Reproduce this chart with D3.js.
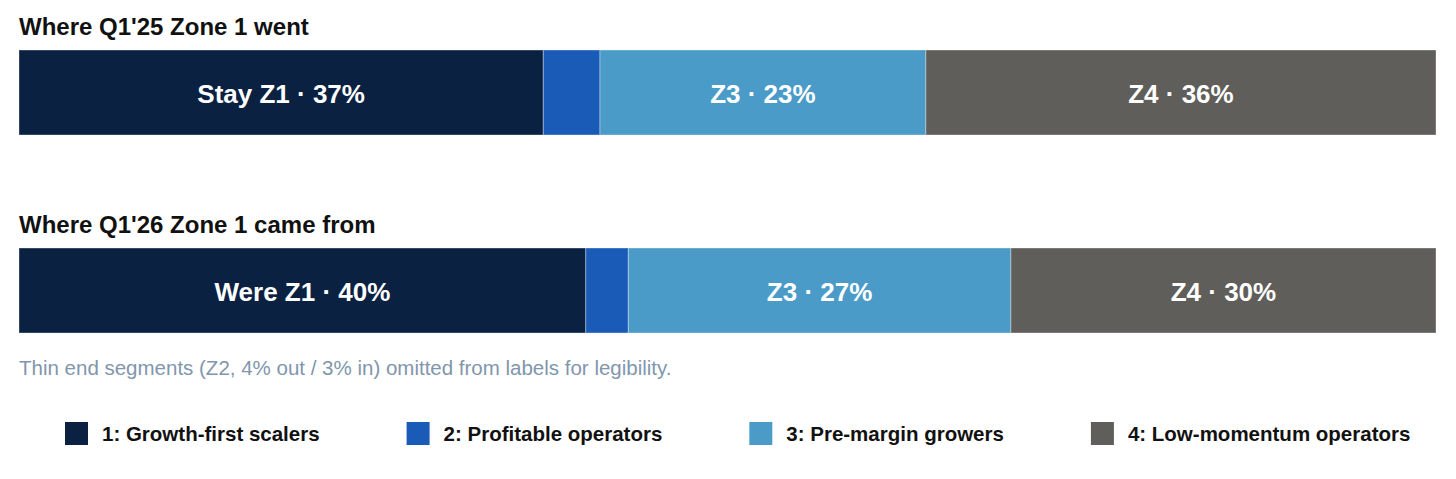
<!DOCTYPE html>
<html lang="en">
<head>
<meta charset="utf-8"/>
<script src="https://d3js.org/d3.v7.min.js"></script>
<style>
  body { margin: 0; background: #fff; }
  svg { display: block; font-family: "Liberation Sans", Arial, sans-serif; }
</style>
</head>
<body>
<div id="chart"></div>
<script>
// zone shares (percent of Q1 Zone 1 companies)
var zones = ["Z1", "Z2", "Z3", "Z4"];
var wentShare = [37, 4, 23, 36];
var cameShare = [40, 3, 27, 30];
var wentLabels = ["Stay Z1", "", "Z3", "Z4"];
var cameLabels = ["Were Z1", "", "Z3", "Z4"];
var legendNames = ["1: Growth-first scalers", "2: Profitable operators", "3: Pre-margin growers", "4: Low-momentum operators"];
var colors = ["#0b2142", "#1a5bb8", "#4a9bc8", "#5f5e5a"];

var width = 1456, height = 479;
var svg = d3.select("#chart").append("svg")
    .attr("width", width)
    .attr("height", height);

var x = d3.scaleLinear().domain([0, 100]).range([19, 1436]);
var color = d3.scaleOrdinal().domain(zones).range(colors);

function drawBar(title, shares, labels, top) {
    var g = svg.append("g").attr("transform", "translate(0," + top + ")");

    g.append("text")
        .attr("x", 19)
        .attr("y", -15)
        .attr("font-size", 24)
        .attr("font-weight", "bold")
        .attr("fill", "#111")
        .text(title);

    var cum = 0;
    var segs = shares.map(function (v, i) {
        var s = {zone: zones[i], start: cum, value: v, label: labels[i]};
        cum += v;
        return s;
    });

    g.selectAll("rect")
        .data(segs)
        .enter()
        .append("rect")
            .attr("x", function (d) { return x(d.start); })
            .attr("y", 0)
            .attr("width", function (d) { return x(d.start + d.value) - x(d.start); })
            .attr("height", 85)
            .attr("fill", function (d) { return color(d.zone); })
            .attr("stroke", "rgba(255,255,255,0.35)")
            .attr("stroke-width", 1);

    g.selectAll("text.seg")
        .data(segs.filter(function (d) { return d.label; }))
        .enter()
        .append("text")
            .attr("class", "seg")
            .attr("x", function (d) { return x(d.start + d.value / 2); })
            .attr("y", 44)
            .attr("dy", "0.35em")
            .attr("text-anchor", "middle")
            .attr("font-size", 26)
            .attr("font-weight", "bold")
            .attr("fill", "#fff")
            .text(function (d) { return d.label + " \u00b7 " + d.value + "%"; });
}

drawBar("Where Q1'25 Zone 1 went", wentShare, wentLabels, 50);
drawBar("Where Q1'26 Zone 1 came from", cameShare, cameLabels, 248);

svg.append("text")
    .attr("x", 19)
    .attr("y", 375)
    .attr("font-size", 20.5)
    .attr("fill", "#8196ad")
    .text("Thin end segments (Z2, " + wentShare[1] + "% out / " + cameShare[1] + "% in) omitted from labels for legibility.");

// legend, laid out left to right with a fixed gap
var lx = 65;
legendNames.forEach(function (name, i) {
    var item = svg.append("g").attr("transform", "translate(" + lx + ",422)");
    item.append("rect")
        .attr("width", 23)
        .attr("height", 23)
        .attr("fill", colors[i]);
    var t = item.append("text")
        .attr("x", 37)
        .attr("y", 12)
        .attr("dy", "0.35em")
        .attr("font-size", 20.5)
        .attr("font-weight", "bold")
        .attr("fill", "#111")
        .text(name);
    lx += 37 + t.node().getComputedTextLength() + 87;
});
</script>
</body>
</html>
